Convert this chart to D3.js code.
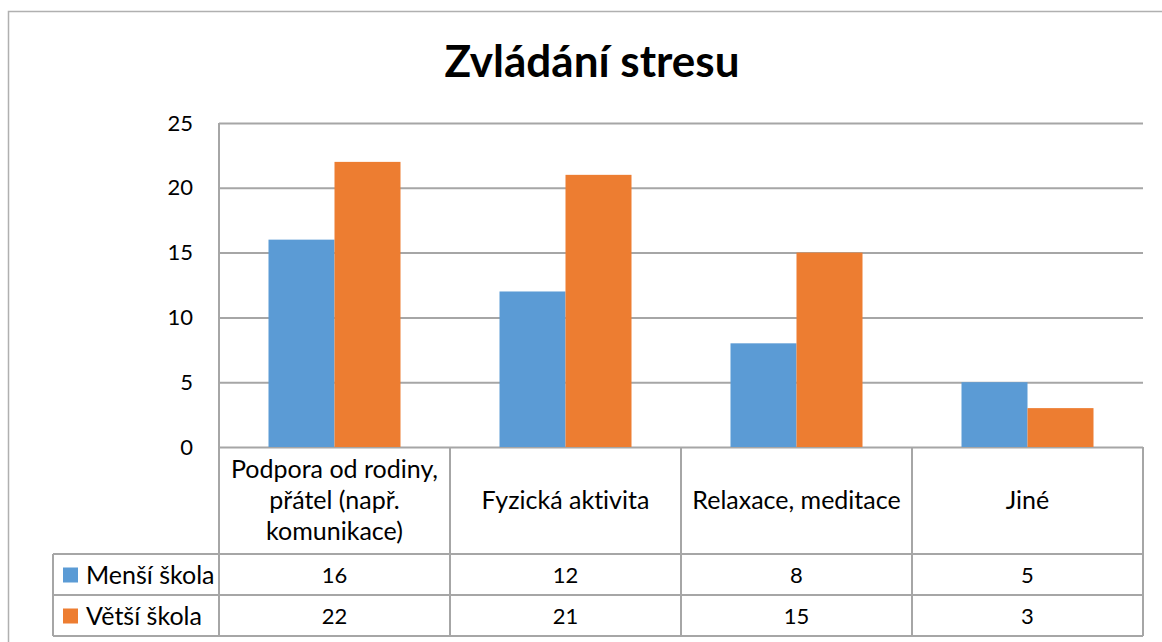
<!DOCTYPE html>
<html>
<head>
<meta charset="utf-8">
<script src="https://cdnjs.cloudflare.com/ajax/libs/d3/7.8.5/d3.min.js"></script>
<style>
  body { margin: 0; background: #fff; }
  svg { display: block; font-family: Lato, "Open Sans", sans-serif; font-variant-ligatures: none; }
</style>
</head>
<body>
<div id="chart"></div>
<script>
// data
var categories = ["Podpora od rodiny, přátel (např. komunikace)", "Fyzická aktivita", "Relaxace, meditace", "Jiné"];
var categoryLines = [["Podpora od rodiny,", "přátel (např.", "komunikace)"], ["Fyzická aktivita"], ["Relaxace, meditace"], ["Jiné"]];
var seriesNames = ["Menší škola", "Větší škola"];
var mensiSkola = [16, 12, 8, 5];
var vetsiSkola = [22, 21, 15, 3];
var yTicks = [0, 5, 10, 15, 20, 25];
var colors = ["#5b9bd5", "#ed7d31"];

var series = [mensiSkola, vetsiSkola];

var w = 1162, h = 642;
var plotLeft = 219, plotRight = 1143, plotTop = 123, plotBottom = 447;
var legendLeft = 53;
var catRowH = 107, rowH = 41;
var gridColor = "#a6a6a6";

var svg = d3.select("#chart")
            .append("svg")
            .attr("width", w)
            .attr("height", h);

// outer chart border
svg.append("rect")
    .attr("x", 8.5).attr("y", 11.5)
    .attr("width", w + 20).attr("height", h + 20)
    .attr("fill", "none")
    .attr("stroke", "#b0b0b0")
    .attr("stroke-width", 1.5);

svg.append("text")
    .text("Zvládání stresu")
    .attr("x", 592).attr("y", 77)
    .attr("text-anchor", "middle")
    .attr("font-size", "44px")
    .attr("font-weight", "bold")
    .attr("fill", "#000");

var x0 = d3.scaleBand().domain(categories).range([plotLeft, plotRight]);
var groupW = 132;
var x1 = d3.scaleBand().domain(seriesNames)
    .range([(x0.bandwidth() - groupW) / 2, (x0.bandwidth() + groupW) / 2]);
var y = d3.scaleLinear().domain([0, 25]).range([plotBottom, plotTop]);

// gridlines + y labels
var yAxis = d3.axisLeft(y).tickValues(yTicks).tickSize(-(plotRight - plotLeft)).tickPadding(26);
var gy = svg.append("g")
    .attr("transform", "translate(" + plotLeft + ",0)")
    .call(yAxis);
gy.select(".domain").remove();
gy.selectAll(".tick line").attr("stroke", gridColor).attr("stroke-width", 2);
gy.selectAll(".tick text")
    .attr("font-size", "22px")
    .attr("font-family", "Lato, sans-serif")
    .attr("fill", "#000");

// vertical axis line
svg.append("line")
    .attr("x1", plotLeft).attr("x2", plotLeft)
    .attr("y1", plotTop).attr("y2", plotBottom)
    .attr("stroke", gridColor).attr("stroke-width", 2);

// bars
svg.selectAll("g.series")
    .data(series)
    .enter()
    .append("g")
    .attr("class", "series")
    .attr("fill", function(d, i) { return colors[i]; })
    .each(function(vals, si) {
        d3.select(this).selectAll("rect")
            .data(vals)
            .enter()
            .append("rect")
            .attr("x", function(d, i) { return x0(categories[i]) + x1(seriesNames[si]); })
            .attr("width", x1.bandwidth())
            .attr("y", function(d) { return y(d); })
            .attr("height", function(d) { return y(0) - y(d); });
    });

// data table
var t = svg.append("g").attr("stroke", gridColor).attr("stroke-width", 2);
var rowY = [plotBottom + catRowH, plotBottom + catRowH + rowH, plotBottom + catRowH + 2 * rowH];
rowY.forEach(function(yy) {
    t.append("line").attr("x1", legendLeft).attr("x2", plotRight).attr("y1", yy).attr("y2", yy);
});
t.append("line").attr("x1", legendLeft).attr("x2", legendLeft).attr("y1", rowY[0]).attr("y2", rowY[2]);
var colX = categories.map(function(c) { return x0(c); }).concat([plotRight]);
colX.forEach(function(xx) {
    t.append("line").attr("x1", xx).attr("x2", xx).attr("y1", plotBottom).attr("y2", rowY[2]);
});

// category labels
var lineH = 31;
svg.selectAll("text.cat")
    .data(categoryLines)
    .enter()
    .append("text")
    .attr("class", "cat")
    .attr("text-anchor", "middle")
    .attr("font-size", "25px")
    .attr("fill", "#000")
    .each(function(lines, i) {
        var cx = x0(categories[i]) + x0.bandwidth() / 2;
        var y0 = plotBottom + catRowH / 2 - (lines.length - 1) * lineH / 2 + 8;
        d3.select(this).selectAll("tspan")
            .data(lines)
            .enter()
            .append("tspan")
            .attr("x", cx)
            .attr("y", function(d, j) { return y0 + j * lineH; })
            .text(function(d) { return d; });
    });

// value rows with legend keys
series.forEach(function(vals, si) {
    var cy = rowY[si] + rowH / 2;
    svg.append("rect")
        .attr("x", 63).attr("y", cy - 7)
        .attr("width", 15).attr("height", 15)
        .attr("fill", colors[si]);
    svg.append("text")
        .text(seriesNames[si])
        .attr("x", 86).attr("y", cy + 9)
        .attr("font-size", "25px")
        .attr("fill", "#000");
    svg.selectAll("text.v" + si)
        .data(vals)
        .enter()
        .append("text")
        .attr("class", "v" + si)
        .text(function(d) { return d; })
        .attr("x", function(d, i) { return x0(categories[i]) + x0.bandwidth() / 2; })
        .attr("y", cy + 8)
        .attr("text-anchor", "middle")
        .attr("font-size", "22px")
        .attr("fill", "#000");
});
</script>
</body>
</html>
